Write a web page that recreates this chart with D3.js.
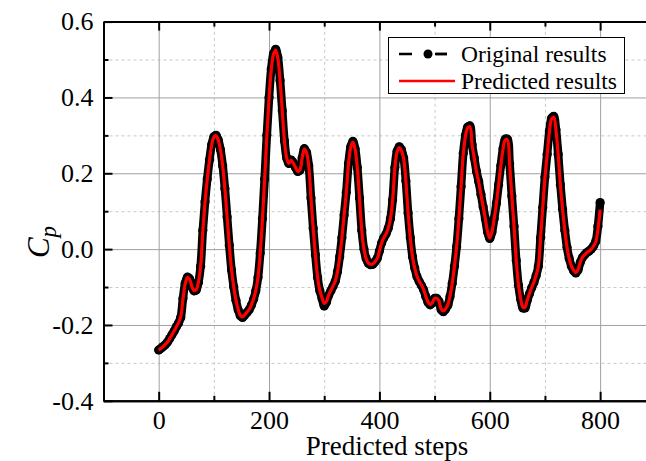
<!DOCTYPE html>
<html>
<head>
<meta charset="utf-8">
<script src="https://cdn.jsdelivr.net/npm/d3@7"></script>
<style>
body { margin: 0; background: #fff; }
text { font-family: "Liberation Serif", "Times New Roman", serif; fill: #000; }
</style>
</head>
<body>
<svg id="chart" width="646" height="461"></svg>
<script>
// x values: one sample every 4 predicted steps, 0..800
var steps = d3.range(0, 801, 4);

// Cp (black dots = original)
var original = [
  -0.266,-0.262,-0.257,-0.252,-0.245,-0.236,-0.226,-0.216,-0.205,-0.195,
  -0.180,-0.130,-0.090,-0.074,-0.078,-0.098,-0.110,-0.108,-0.088,-0.045,
   0.050, 0.125, 0.185, 0.235, 0.275, 0.296, 0.300, 0.288, 0.262, 0.220,
   0.160, 0.085, 0.010,-0.055,-0.100,-0.135,-0.160,-0.176,-0.180,-0.174,
  -0.167,-0.160,-0.148,-0.132,-0.110,-0.075,-0.010, 0.080, 0.185, 0.300,
   0.400, 0.475, 0.515, 0.527, 0.505, 0.445, 0.365, 0.285, 0.240, 0.226,
   0.235, 0.228, 0.215, 0.205, 0.208, 0.240, 0.265, 0.255, 0.220, 0.135,
   0.055,-0.015,-0.075,-0.110,-0.130,-0.150,-0.140,-0.122,-0.110,-0.098,
  -0.085,-0.060,-0.020, 0.030, 0.090, 0.150, 0.226, 0.270, 0.284, 0.265,
   0.215, 0.135, 0.050, 0.000,-0.025,-0.037,-0.041,-0.040,-0.033,-0.025,
  -0.005, 0.016, 0.030, 0.040, 0.055, 0.080, 0.130, 0.215, 0.258, 0.270,
   0.262, 0.240, 0.180, 0.095, 0.030,-0.020,-0.050,-0.072,-0.085,-0.095,
  -0.107,-0.125,-0.140,-0.147,-0.142,-0.130,-0.130,-0.138,-0.160,-0.165,
  -0.158,-0.148,-0.125,-0.090,-0.045, 0.007, 0.080, 0.165, 0.253, 0.300,
   0.322, 0.325, 0.275, 0.240, 0.205, 0.178, 0.145, 0.112, 0.080, 0.045,
   0.028, 0.045, 0.080, 0.120, 0.170, 0.220, 0.265, 0.290, 0.290, 0.225,
   0.140, 0.060,-0.030,-0.095,-0.132,-0.155,-0.155,-0.135,-0.118,-0.102,
  -0.088,-0.070,-0.046, 0.030, 0.110, 0.190, 0.250, 0.310, 0.345, 0.350,
   0.315, 0.250, 0.170, 0.105, 0.050, 0.005,-0.025,-0.045,-0.057,-0.063,
  -0.055,-0.035,-0.022,-0.015,-0.009,-0.005, 0.000, 0.008, 0.020, 0.060,
   0.123
];

// red line = predicted
var predicted = [
  -0.266,-0.262,-0.257,-0.251,-0.245,-0.236,-0.226,-0.216,-0.205,-0.194,
  -0.178,-0.132,-0.092,-0.075,-0.079,-0.098,-0.109,-0.107,-0.087,-0.046,
   0.048, 0.123, 0.184, 0.234, 0.274, 0.295, 0.299, 0.287, 0.261, 0.219,
   0.159, 0.084, 0.010,-0.054,-0.099,-0.134,-0.159,-0.175,-0.179,-0.173,
  -0.166,-0.159,-0.147,-0.131,-0.109,-0.074,-0.011, 0.078, 0.183, 0.298,
   0.398, 0.473, 0.513, 0.525, 0.503, 0.444, 0.364, 0.285, 0.240, 0.226,
   0.234, 0.227, 0.215, 0.205, 0.209, 0.240, 0.264, 0.254, 0.219, 0.135,
   0.055,-0.015,-0.074,-0.109,-0.128,-0.143,-0.138,-0.121,-0.109,-0.097,
  -0.084,-0.060,-0.021, 0.029, 0.089, 0.149, 0.224, 0.268, 0.282, 0.263,
   0.214, 0.134, 0.050, 0.000,-0.025,-0.037,-0.040,-0.039,-0.033,-0.025,
  -0.005, 0.016, 0.030, 0.040, 0.055, 0.080, 0.129, 0.213, 0.256, 0.268,
   0.260, 0.238, 0.179, 0.095, 0.030,-0.020,-0.050,-0.071,-0.084,-0.094,
  -0.106,-0.124,-0.139,-0.146,-0.141,-0.130,-0.130,-0.137,-0.158,-0.163,
  -0.157,-0.147,-0.124,-0.090,-0.045, 0.007, 0.079, 0.164, 0.251, 0.298,
   0.320, 0.323, 0.274, 0.239, 0.204, 0.177, 0.144, 0.112, 0.080, 0.046,
   0.029, 0.046, 0.080, 0.120, 0.169, 0.219, 0.263, 0.288, 0.288, 0.224,
   0.139, 0.060,-0.029,-0.094,-0.131,-0.153,-0.153,-0.134,-0.117,-0.101,
  -0.087,-0.069,-0.046, 0.029, 0.109, 0.188, 0.248, 0.308, 0.343, 0.348,
   0.313, 0.249, 0.169, 0.105, 0.050, 0.005,-0.025,-0.045,-0.056,-0.062,
  -0.054,-0.035,-0.022,-0.015,-0.009,-0.005, 0.000, 0.008, 0.019, 0.052,
   0.104
];

var xTicks = [0, 200, 400, 600, 800];
var xMinor = [100, 300, 500, 700];
var yTicks = [-0.4, -0.2, 0.0, 0.2, 0.4, 0.6];
var yMinor = [-0.3, -0.1, 0.1, 0.3, 0.5];
var legendLabels = ["Original results", "Predicted results"];

var svg = d3.select("#chart");

var plotL = 103.5, plotR = 655.3, plotT = 21.6, plotB = 400.8;

var x = d3.scaleLinear().domain([-100, 900]).range([plotL, plotR]);
var y = d3.scaleLinear().domain([-0.4, 0.6]).range([plotB, plotT]);

// grid
function grid(g, axis, dash, col) {
  g.call(axis);
  g.select(".domain").remove();
  g.selectAll(".tick line").attr("stroke", col).attr("stroke-width", 1)
    .attr("stroke-dasharray", dash);
}
svg.append("g").attr("transform", "translate(0," + plotB + ")")
  .call(grid, d3.axisBottom(x).tickValues(xMinor).tickSize(-(plotB - plotT)).tickFormat(""), "3,3", "#c8c8c8");
svg.append("g").attr("transform", "translate(" + plotL + ",0)")
  .call(grid, d3.axisLeft(y).tickValues(yMinor).tickSize(-(plotR - plotL)).tickFormat(""), "3,3", "#c8c8c8");
svg.append("g").attr("transform", "translate(0," + plotB + ")")
  .call(grid, d3.axisBottom(x).tickValues(xTicks).tickSize(-(plotB - plotT)).tickFormat(""), null, "#a0a0a0");
svg.append("g").attr("transform", "translate(" + plotL + ",0)")
  .call(grid, d3.axisLeft(y).tickValues(yTicks).tickSize(-(plotR - plotL)).tickFormat(""), null, "#a0a0a0");

// series
var line = d3.line()
  .x(function(d, i) { return x(steps[i]); })
  .y(function(d) { return y(d); })
  .curve(d3.curveCatmullRom);

svg.append("path").datum(original)
  .attr("d", line).attr("fill", "none")
  .attr("stroke", "#000").attr("stroke-width", 8.5)
  .attr("stroke-linejoin", "round").attr("stroke-linecap", "round");

svg.append("g").selectAll("circle")
  .data(original).enter()
  .append("circle")
  .attr("cx", function(d, i) { return x(steps[i]); })
  .attr("cy", function(d) { return y(d); })
  .attr("r", 4.6)
  .attr("fill", "#000");

svg.append("path").datum(predicted)
  .attr("d", line).attr("fill", "none")
  .attr("stroke", "#ff0000").attr("stroke-width", 3.2)
  .attr("stroke-linejoin", "round");

// axes
function styleAxis(g) {
  g.select(".domain").attr("stroke", "#000").attr("stroke-width", 2);
  g.selectAll(".tick line").attr("stroke", "#000").attr("stroke-width", 2);
  g.selectAll(".tick text").style("font-size", "26px")
    .style("font-family", "'Liberation Serif', serif").attr("fill", "#000");
}

svg.append("g").attr("transform", "translate(0," + plotB + ")")
  .call(d3.axisBottom(x).tickValues(xMinor).tickSize(-5).tickSizeOuter(0).tickFormat(""))
  .call(styleAxis);
svg.append("g").attr("transform", "translate(0," + plotB + ")")
  .call(d3.axisBottom(x).tickValues(xTicks).tickSize(-9).tickSizeOuter(0).tickPadding(10)
    .tickFormat(function(d) { return d; }))
  .call(styleAxis);

svg.append("g").attr("transform", "translate(0," + plotT + ")")
  .call(d3.axisTop(x).tickValues(xMinor).tickSize(-5).tickSizeOuter(0).tickFormat(""))
  .call(styleAxis);
svg.append("g").attr("transform", "translate(0," + plotT + ")")
  .call(d3.axisTop(x).tickValues(xTicks).tickSize(-9).tickSizeOuter(0).tickFormat(""))
  .call(styleAxis);

svg.append("g").attr("transform", "translate(" + plotL + ",0)")
  .call(d3.axisLeft(y).tickValues(yMinor).tickSize(-5).tickSizeOuter(0).tickFormat(""))
  .call(styleAxis);
svg.append("g").attr("transform", "translate(" + plotL + ",0)")
  .call(d3.axisLeft(y).tickValues(yTicks).tickSize(-9).tickSizeOuter(0).tickPadding(10)
    .tickFormat(function(d) { return d.toFixed(1); }))
  .call(styleAxis);

// axis titles
svg.append("text")
  .attr("x", 387).attr("y", 455)
  .attr("text-anchor", "middle")
  .style("font-size", "27px")
  .text("Predicted steps");

var yt = svg.append("text")
  .attr("transform", "translate(49,242) rotate(-90)")
  .attr("text-anchor", "middle")
  .style("font-size", "31px")
  .style("font-style", "italic");
yt.append("tspan").text("C");
yt.append("tspan").attr("dy", 7).style("font-size", "23px").text("p");

// legend
var lg = svg.append("g");
lg.append("rect")
  .attr("x", 388.5).attr("y", 37.5).attr("width", 236).attr("height", 56)
  .attr("fill", "#fff").attr("stroke", "#000").attr("stroke-width", 1);

lg.append("line")
  .attr("x1", 399).attr("x2", 447).attr("y1", 54).attr("y2", 54)
  .attr("stroke", "#000").attr("stroke-width", 2.5).attr("stroke-dasharray", "13,23");
lg.append("line")
  .attr("x1", 436).attr("x2", 447).attr("y1", 54).attr("y2", 54)
  .attr("stroke", "#000").attr("stroke-width", 2.5);
lg.append("circle").attr("cx", 428).attr("cy", 54).attr("r", 4.5).attr("fill", "#000");

lg.append("line")
  .attr("x1", 399).attr("x2", 455).attr("y1", 81).attr("y2", 81)
  .attr("stroke", "#ff0000").attr("stroke-width", 2.5);

lg.selectAll("text.lab")
  .data(legendLabels).enter()
  .append("text").attr("class", "lab")
  .attr("x", 461)
  .attr("y", function(d, i) { return 62 + i * 27; })
  .style("font-size", "23.5px")
  .text(function(d) { return d; });
</script>
</body>
</html>
